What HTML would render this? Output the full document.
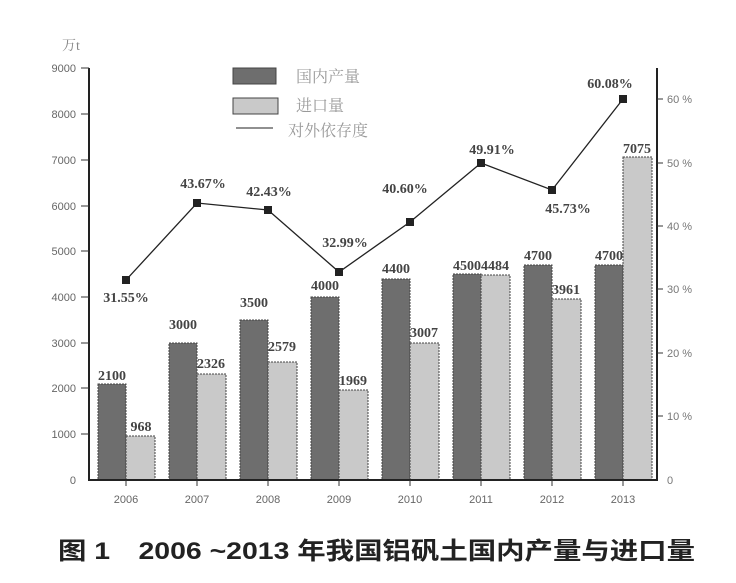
<!DOCTYPE html>
<html><head><meta charset="utf-8"><style>
body{margin:0;background:#fff;}
svg{display:block}
</style></head><body>
<svg width="736" height="583" xmlns="http://www.w3.org/2000/svg" font-family="Liberation Sans, sans-serif">
<rect width="736" height="583" fill="#fff"/>
<g id="bars" stroke="#444" stroke-width="1" stroke-dasharray="2,1">
<rect x="98" y="384" width="28" height="96" fill="#6e6e6e"/>
<rect x="126" y="436" width="29" height="44" fill="#c9c9c9"/>
<rect x="169" y="343" width="28" height="137" fill="#6e6e6e"/>
<rect x="197" y="374" width="29" height="106" fill="#c9c9c9"/>
<rect x="240" y="320" width="28" height="160" fill="#6e6e6e"/>
<rect x="268" y="362" width="29" height="118" fill="#c9c9c9"/>
<rect x="311" y="297" width="28" height="183" fill="#6e6e6e"/>
<rect x="339" y="390" width="29" height="90" fill="#c9c9c9"/>
<rect x="382" y="279" width="28" height="201" fill="#6e6e6e"/>
<rect x="410" y="343" width="29" height="137" fill="#c9c9c9"/>
<rect x="453" y="274" width="28" height="206" fill="#6e6e6e"/>
<rect x="481" y="275" width="29" height="205" fill="#c9c9c9"/>
<rect x="524" y="265" width="28" height="215" fill="#6e6e6e"/>
<rect x="552" y="299" width="29" height="181" fill="#c9c9c9"/>
<rect x="595" y="265" width="28" height="215" fill="#6e6e6e"/>
<rect x="623" y="157" width="29" height="323" fill="#c9c9c9"/>
</g>
<g stroke="#222" stroke-width="2" fill="none">
<line x1="89" y1="68" x2="89" y2="481"/>
<line x1="657" y1="68" x2="657" y2="481"/>
<line x1="88" y1="480" x2="658" y2="480"/>
</g>
<g stroke="#333" stroke-width="1">
<line x1="81" y1="68" x2="89" y2="68"/><line x1="81" y1="114" x2="89" y2="114"/><line x1="81" y1="160" x2="89" y2="160"/><line x1="81" y1="206" x2="89" y2="206"/><line x1="81" y1="251" x2="89" y2="251"/><line x1="81" y1="297" x2="89" y2="297"/><line x1="81" y1="343" x2="89" y2="343"/><line x1="81" y1="388" x2="89" y2="388"/><line x1="81" y1="434" x2="89" y2="434"/>
<line x1="657" y1="99" x2="663" y2="99"/><line x1="657" y1="163" x2="663" y2="163"/><line x1="657" y1="226" x2="663" y2="226"/><line x1="657" y1="289" x2="663" y2="289"/><line x1="657" y1="353" x2="663" y2="353"/><line x1="657" y1="416" x2="663" y2="416"/>
<line x1="126" y1="480" x2="126" y2="486"/><line x1="197" y1="480" x2="197" y2="486"/><line x1="268" y1="480" x2="268" y2="486"/><line x1="339" y1="480" x2="339" y2="486"/><line x1="410" y1="480" x2="410" y2="486"/><line x1="481" y1="480" x2="481" y2="486"/><line x1="552" y1="480" x2="552" y2="486"/><line x1="623" y1="480" x2="623" y2="486"/>
</g>
<g font-size="11" fill="#666" text-anchor="end">
<text x="76" y="72">9000</text><text x="76" y="118">8000</text><text x="76" y="164">7000</text><text x="76" y="210">6000</text><text x="76" y="255">5000</text><text x="76" y="301">4000</text><text x="76" y="347">3000</text><text x="76" y="392">2000</text><text x="76" y="438">1000</text><text x="76" y="484">0</text>
</g>
<text x="62" y="50" font-size="14" fill="#888" font-family="Liberation Serif, Noto Serif CJK SC, serif">万t</text>
<g font-size="11" fill="#777">
<text x="667" y="103">60 %</text><text x="667" y="167">50 %</text><text x="667" y="230">40 %</text><text x="667" y="293">30 %</text><text x="667" y="357">20 %</text><text x="667" y="420">10 %</text><text x="667" y="484">0</text>
</g>
<g font-size="11" fill="#666" text-anchor="middle">
<text x="126" y="503">2006</text><text x="197" y="503">2007</text><text x="268" y="503">2008</text><text x="339" y="503">2009</text><text x="410" y="503">2010</text><text x="481" y="503">2011</text><text x="552" y="503">2012</text><text x="623" y="503">2013</text>
</g>
<g font-size="14" font-weight="bold" fill="#444" font-family="Liberation Serif, serif" text-anchor="middle">
<text x="112" y="380">2100</text><text x="141" y="431">968</text>
<text x="183" y="329">3000</text><text x="211" y="368">2326</text>
<text x="254" y="307">3500</text><text x="282" y="351">2579</text>
<text x="325" y="290">4000</text><text x="353" y="385">1969</text>
<text x="396" y="273">4400</text><text x="424" y="337">3007</text>
<text x="467" y="270">4500</text><text x="495" y="270">4484</text>
<text x="538" y="260">4700</text><text x="566" y="294">3961</text>
<text x="609" y="260">4700</text><text x="637" y="153">7075</text>
</g>
<polyline fill="none" stroke="#222" stroke-width="1.3" points="126,280 197,203 268,210 339,272 410,222 481,163 552,190 623,99"/>
<g fill="#222">
<rect x="122" y="276" width="8" height="8"/><rect x="193" y="199" width="8" height="8"/><rect x="264" y="206" width="8" height="8"/><rect x="335" y="268" width="8" height="8"/><rect x="406" y="218" width="8" height="8"/><rect x="477" y="159" width="8" height="8"/><rect x="548" y="186" width="8" height="8"/><rect x="619" y="95" width="8" height="8"/>
</g>
<g font-size="14" font-weight="bold" fill="#444" font-family="Liberation Serif, serif" text-anchor="middle">
<text x="126" y="302">31.55%</text><text x="203" y="188">43.67%</text><text x="269" y="196">42.43%</text><text x="345" y="247">32.99%</text><text x="405" y="193">40.60%</text><text x="492" y="154">49.91%</text><text x="568" y="213">45.73%</text><text x="610" y="88">60.08%</text>
</g>
<rect x="233" y="68" width="43" height="16" fill="#6e6e6e" stroke="#444"/>
<rect x="233" y="98" width="45" height="16" fill="#c9c9c9" stroke="#444"/>
<line x1="236" y1="128" x2="273" y2="128" stroke="#222" stroke-width="1"/>
<g font-size="16" fill="#999" font-family="Noto Serif CJK SC, serif">
<text x="296" y="82">国内产量</text><text x="296" y="111">进口量</text><text x="288" y="136">对外依存度</text>
</g>
<text x="58" y="559" font-size="24" font-weight="bold" fill="#222" textLength="637" lengthAdjust="spacingAndGlyphs" font-family="Liberation Sans, Noto Sans CJK SC, sans-serif">图 1　2006 ~2013 年我国铝矾土国内产量与进口量</text>
</svg>
</body></html>
